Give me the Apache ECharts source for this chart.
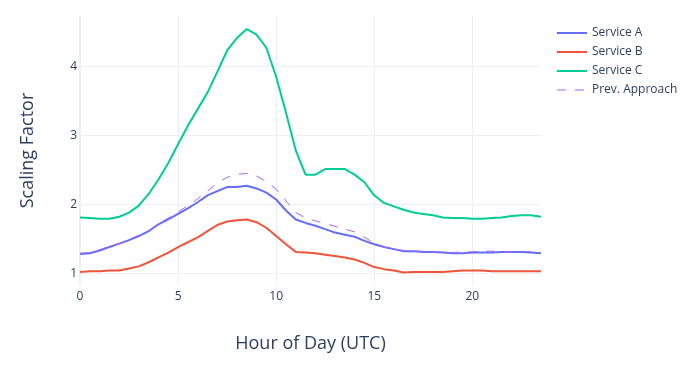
<!DOCTYPE html>
<html>
<head>
<meta charset="utf-8">
<script src="https://cdn.jsdelivr.net/npm/echarts@6/dist/echarts.min.js"></script>
<style>html,body{margin:0;padding:0;background:#fff}#c{width:700px;height:366px}</style>
</head>
<body>
<div id="c"></div>
<script>
const hours = [0,0.5,1,1.5,2,2.5,3,3.5,4,4.5,5,5.5,6,6.5,7,7.5,8,8.5,9,9.5,10,10.5,11,11.5,12,12.5,13,13.5,14,14.5,15,15.5,16,16.5,17,17.5,18,18.5,19,19.5,20,20.5,21,21.5,22,22.5,23,23.5];
const serviceA = [1.28,1.29,1.33,1.38,1.43,1.48,1.54,1.61,1.71,1.78,1.86,1.94,2.03,2.13,2.19,2.25,2.25,2.27,2.23,2.17,2.07,1.91,1.78,1.73,1.69,1.64,1.59,1.56,1.53,1.47,1.42,1.38,1.35,1.32,1.32,1.31,1.31,1.30,1.29,1.29,1.30,1.30,1.30,1.31,1.31,1.31,1.30,1.29];
const serviceB = [1.02,1.03,1.03,1.04,1.04,1.07,1.10,1.16,1.23,1.30,1.38,1.45,1.52,1.61,1.70,1.75,1.77,1.78,1.74,1.66,1.54,1.42,1.31,1.30,1.29,1.27,1.25,1.23,1.20,1.15,1.09,1.06,1.04,1.01,1.02,1.02,1.02,1.02,1.03,1.04,1.04,1.04,1.03,1.03,1.03,1.03,1.03,1.03];
const serviceC = [1.81,1.80,1.79,1.79,1.82,1.88,1.98,2.15,2.36,2.60,2.87,3.14,3.38,3.62,3.92,4.23,4.41,4.54,4.46,4.27,3.85,3.33,2.78,2.43,2.43,2.51,2.51,2.51,2.43,2.32,2.13,2.02,1.97,1.92,1.88,1.86,1.84,1.81,1.80,1.80,1.79,1.79,1.80,1.81,1.83,1.84,1.84,1.82];
const prevApproach = [1.29,1.30,1.34,1.39,1.43,1.49,1.55,1.62,1.72,1.80,1.89,1.98,2.08,2.19,2.31,2.39,2.43,2.45,2.41,2.33,2.22,2.05,1.88,1.80,1.76,1.72,1.68,1.64,1.60,1.52,1.44,1.38,1.35,1.33,1.32,1.32,1.31,1.31,1.30,1.31,1.31,1.32,1.32,1.32,1.31,1.32,1.31,1.30];
const xTicks = [0,5,10,15,20];
const yTicks = [1,2,3,4];

const FONT = '"Open Sans", Verdana, Arial, sans-serif';
const TXT = '#2a3f5f';
const GRID = '#EBF0F8';
const pair = arr => hours.map((h,i)=>[h,arr[i]]);

const chart = echarts.init(document.getElementById('c'));
chart.setOption({
  animation: false,
  textStyle: {fontFamily: FONT},
  grid: {left: 80, right: 159, top: 16, bottom: 81, containLabel: false},
  legend: {
    orient: 'vertical', left: 551, top: 22, itemWidth: 30, itemHeight: 14, itemGap: 7,
    itemStyle: {opacity: 0},
    textStyle: {fontFamily: FONT, fontSize: 12, color: TXT},
    data: [
      {name: 'Service A'},
      {name: 'Service B'},
      {name: 'Service C'},
      {name: 'Prev. Approach', lineStyle: {type: [9,9], width: 1}}
    ]
  },
  xAxis: {
    type: 'value', min: 0, max: 23.5,
    name: 'Hour of Day (UTC)', nameLocation: 'middle', nameGap: 50,
    nameTextStyle: {fontFamily: FONT, fontSize: 18, color: TXT},
    axisLine: {show: false}, axisTick: {show: false, customValues: xTicks},
    axisLabel: {customValues: xTicks, margin: 6, fontSize: 12, color: TXT, fontFamily: FONT},
    splitLine: {show: true, lineStyle: {color: GRID, width: 1}}
  },
  yAxis: {
    type: 'value', min: 0.83, max: 4.73,
    name: 'Scaling Factor', nameLocation: 'middle', nameGap: 43,
    nameTextStyle: {fontFamily: FONT, fontSize: 18, color: TXT},
    axisLine: {show: false}, axisTick: {show: false, customValues: yTicks},
    axisLabel: {customValues: yTicks, margin: 3, fontSize: 12, color: TXT, fontFamily: FONT},
    splitLine: {show: true, lineStyle: {color: GRID, width: 1}}
  },
  series: [
    {name: 'Service A', type: 'line', data: pair(serviceA), symbol: 'none', lineStyle: {color: '#636efa', width: 2}, itemStyle: {color: '#636efa'}},
    {name: 'Service B', type: 'line', data: pair(serviceB), symbol: 'none', lineStyle: {color: '#EF553B', width: 2}, itemStyle: {color: '#EF553B'}},
    {name: 'Service C', type: 'line', data: pair(serviceC), symbol: 'none', lineStyle: {color: '#00cc96', width: 2}, itemStyle: {color: '#00cc96'}},
    {name: 'Prev. Approach', type: 'line', data: pair(prevApproach), symbol: 'none', lineStyle: {color: '#ab63fa', width: 1, type: [9,9]}, itemStyle: {color: '#ab63fa'}},
    {type: 'line', data: [[0,0.83],[0,4.73]], symbol: 'none', silent: true, lineStyle: {color: GRID, width: 2}, z: 0, tooltip: {show: false}}
  ]
});
</script>
</body>
</html>
